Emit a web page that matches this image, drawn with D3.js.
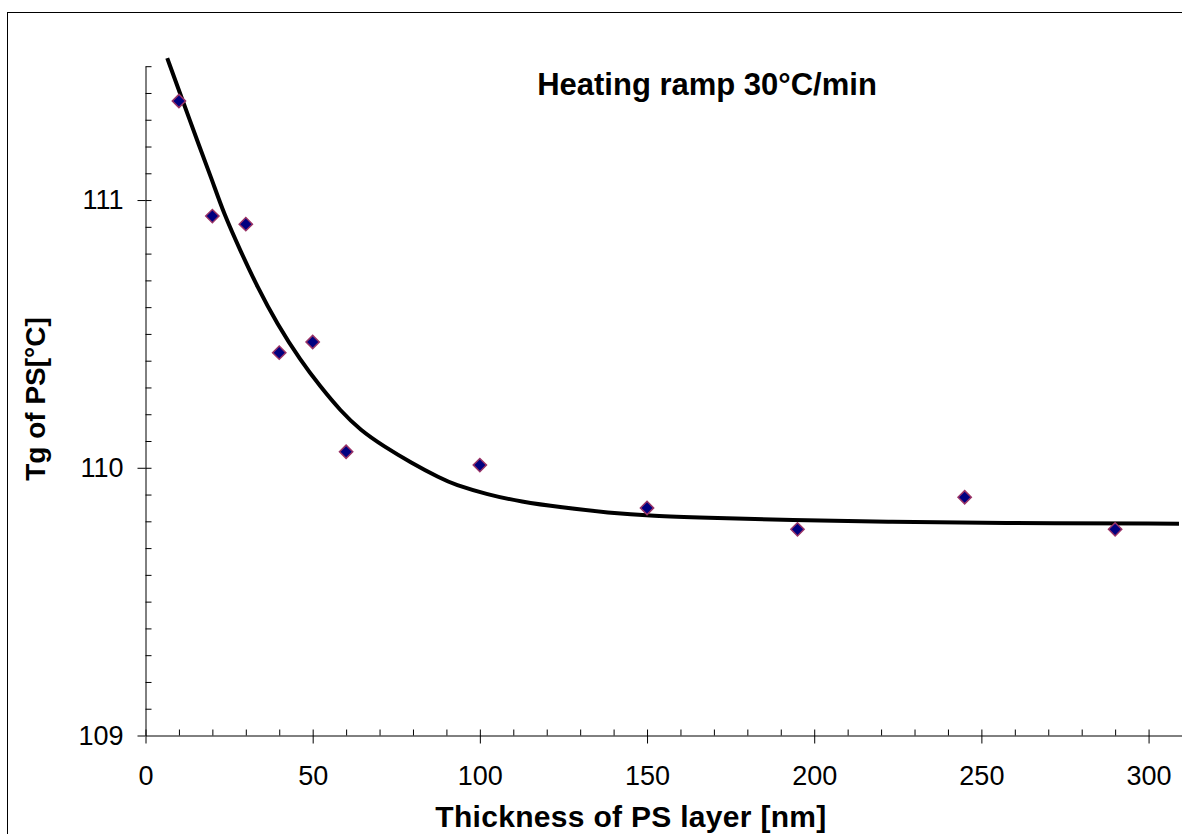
<!DOCTYPE html>
<html>
<head>
<meta charset="utf-8">
<script src="https://cdn.jsdelivr.net/npm/d3@7"></script>
<style>
  body { margin: 0; background: #fff; }
  svg { display: block; font-family: "Liberation Sans", Arial, sans-serif; }
</style>
</head>
<body>
<svg></svg>
<script>
// measured points: thickness [nm] vs Tg [°C]
let thickness = [10, 20, 30, 40, 50, 60, 100, 150, 195, 245, 290]
let tg = [111.37, 110.94, 110.91, 110.43, 110.47, 110.06, 110.01, 109.85, 109.77, 109.89, 109.77]

// fitted curve
let fitX = [6.5, 10, 16.4, 19.9, 23.4, 28.4, 33.4, 39.4, 46.4, 52.3, 58.3, 64.3, 71.3, 79.3, 88.3,
            92.3, 102.3, 112.3, 124.3, 138.3, 152.2, 166.2, 193.2, 223.2, 253.1, 309.1]
let fitY = [111.53, 111.41, 111.19, 111.075, 110.95, 110.81, 110.677, 110.536, 110.40, 110.303, 110.213, 110.14, 110.08, 110.02, 109.96,
            109.938, 109.90, 109.873, 109.852, 109.832, 109.82, 109.814, 109.804, 109.798, 109.794, 109.791]

let xMajor = [0, 50, 100, 150, 200, 250, 300]
let yMajor = [109, 110, 111]

let width = 1182
let height = 834

let svg = d3.select('svg')
            .attr('width', width)
            .attr('height', height)

// outer frame
svg.append('rect')
   .attr('x', 7.5)
   .attr('y', 12.5)
   .attr('width', 1190)
   .attr('height', 840)
   .attr('fill', 'none')
   .attr('stroke', '#000')
   .attr('stroke-width', 1)

let xScale = d3.scaleLinear()
               .domain([0, 310])
               .range([145.5, 1182])

let yScale = d3.scaleLinear()
               .domain([109, 111.5])
               .range([735.5, 66.2])

// x axis
let xMinor = d3.range(10, 310, 10).filter(v => v % 50 !== 0)

let gx = svg.append('g')
            .attr('transform', 'translate(0,' + yScale(109) + ')')

gx.call(d3.axisBottom(xScale)
          .tickValues(xMajor)
          .tickSizeOuter(0)
          .tickSizeInner(8)
          .tickPadding(22)
          .tickFormat(d3.format('d')))
gx.selectAll('.tick line').attr('y1', -6)
gx.selectAll('.tick text')
  .attr('font-size', 27)
  .attr('font-family', '"Liberation Sans", Arial, sans-serif')
  .attr('fill', '#000')

gx.append('g')
  .call(d3.axisBottom(xScale)
          .tickValues(xMinor)
          .tickSizeOuter(0)
          .tickSize(-6)
          .tickFormat(''))
  .select('.domain').remove()

// y axis
let yMinor = d3.range(109.1, 111.51, 0.1)

let gy = svg.append('g')
            .attr('transform', 'translate(' + xScale(0) + ',0)')

gy.call(d3.axisLeft(yScale)
          .tickValues(yMajor)
          .tickSizeOuter(0)
          .tickSizeInner(8)
          .tickPadding(14)
          .tickFormat(d3.format('d')))
gy.selectAll('.tick text')
  .attr('font-size', 27)
  .attr('font-family', '"Liberation Sans", Arial, sans-serif')
  .attr('fill', '#000')

gy.append('g')
  .call(d3.axisLeft(yScale)
          .tickValues(yMinor)
          .tickSizeOuter(0)
          .tickSize(-6)
          .tickFormat(''))
  .select('.domain').remove()

// fitted curve
let line = d3.line()
             .x(d => xScale(d[0]))
             .y(d => yScale(d[1]))
             .curve(d3.curveBasis)

svg.append('path')
   .datum(fitX.map((v, i) => [v, fitY[i]]))
   .attr('d', line)
   .attr('fill', 'none')
   .attr('stroke', '#000')
   .attr('stroke-width', 4)

// data points
svg.selectAll('.pt')
   .data(thickness.map((v, i) => [v, tg[i]]))
   .enter()
   .append('path')
   .attr('class', 'pt')
   .attr('d', d3.symbol(d3.symbolSquare, 88))
   .attr('transform', d => 'translate(' + xScale(d[0]) + ',' + yScale(d[1]) + ') rotate(45)')
   .attr('fill', '#000080')
   .attr('stroke', '#993366')
   .attr('stroke-width', 1.5)

// titles
svg.append('text')
   .attr('x', 707)
   .attr('y', 95)
   .attr('text-anchor', 'middle')
   .attr('font-size', 31)
   .attr('font-weight', 'bold')
   .text('Heating ramp 30°C/min')

svg.append('text')
   .attr('x', 631)
   .attr('y', 827)
   .attr('text-anchor', 'middle')
   .attr('font-size', 30)
   .attr('font-weight', 'bold')
   .attr('letter-spacing', 0.3)
   .text('Thickness of PS layer [nm]')

svg.append('text')
   .attr('transform', 'translate(45,399) rotate(-90)')
   .attr('text-anchor', 'middle')
   .attr('font-size', 28)
   .attr('font-weight', 'bold')
   .text('Tg of PS[°C]')
</script>
</body>
</html>
